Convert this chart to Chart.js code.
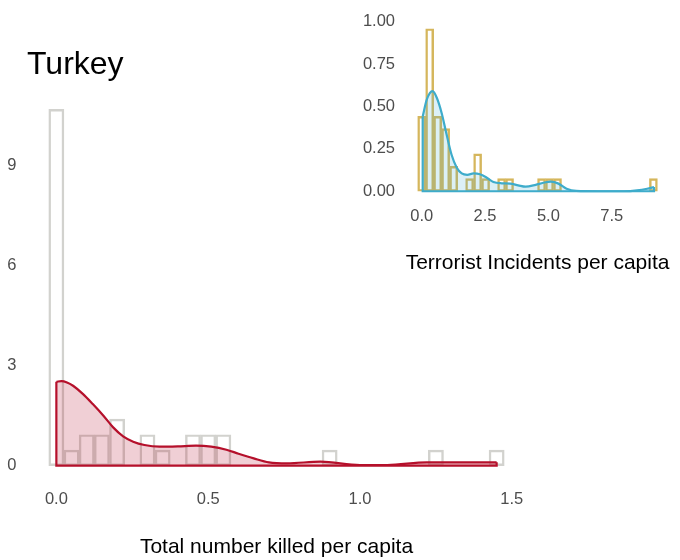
<!DOCTYPE html>
<html>
<head>
<meta charset="utf-8">
<script src="https://cdn.jsdelivr.net/npm/chart.js@4.4.1/dist/chart.umd.min.js"></script>
<style>
  html, body { margin: 0; padding: 0; background: #fff; }
  #wrap { position: relative; width: 680px; height: 560px; }
  #mainBox { position: absolute; left: 0; top: 0; width: 680px; height: 560px; }
  #insetBox { position: absolute; left: 350px; top: 0; width: 330px; height: 280px; }
</style>
</head>
<body>
<div id="wrap">
  <div id="mainBox"><canvas id="mainChart"></canvas></div>
  <div id="insetBox"><canvas id="insetChart"></canvas></div>
</div>
<script>
// ── DATA: main panel (Total number killed per capita) ──
const countryName = 'Turkey';
const killedBins = [0.00, 0.05, 0.10, 0.15, 0.20, 0.25, 0.30, 0.35, 0.40, 0.45,
                    0.50, 0.55, 0.60, 0.65, 0.70, 0.75, 0.80, 0.85, 0.90, 0.95,
                    1.00, 1.05, 1.10, 1.15, 1.20, 1.25, 1.30, 1.35, 1.40, 1.45];
const killedHist = [10.70, 0.47, 0.93, 0.93, 1.40, 0, 0.93, 0.47, 0, 0.93,
                    0.93, 0.93, 0, 0, 0, 0, 0, 0, 0.47, 0,
                    0, 0, 0, 0, 0, 0.47, 0, 0, 0, 0.47];
const killedDensX = [0, 0.017, 0.035, 0.055, 0.088, 0.12, 0.155, 0.187, 0.22, 0.253, 0.29, 0.34, 0.40,
                     0.46, 0.51, 0.56, 0.60, 0.65, 0.70, 0.76, 0.87, 1.00, 1.09, 1.22, 1.32, 1.45];
const killedDensY = [2.52, 2.54, 2.50, 2.40, 2.15, 1.85, 1.50, 1.15, 0.88, 0.72, 0.62, 0.57, 0.58,
                     0.60, 0.57, 0.48, 0.36, 0.22, 0.10, 0.07, 0.12, 0.02, 0.02, 0.10, 0.10, 0.10];
const killedXTicks = [0, 0.5, 1.0, 1.5];
const killedYTicks = [0, 3, 6, 9];

// ── DATA: inset (Terrorist Incidents per capita) ──
const incidentBins = [0.000, 0.315, 0.631, 0.946, 1.262, 1.577, 1.892, 2.208, 2.523, 2.839,
                      3.154, 3.469, 3.785, 4.100, 4.416, 4.731, 5.046, 5.362, 5.677, 5.993,
                      6.308, 6.623, 6.939, 7.254, 7.570, 7.885, 8.200, 8.516, 8.831, 9.147];
const incidentHist = [0.442, 0.958, 0.442, 0.369, 0.147, 0, 0.074, 0.221, 0.074, 0,
                      0.074, 0.074, 0, 0, 0, 0.074, 0.074, 0.074, 0, 0,
                      0, 0, 0, 0, 0, 0, 0, 0, 0, 0.074];
const incidentDensX = [0.04, 0.20, 0.43, 0.60, 0.79, 0.99, 1.18, 1.38, 1.58, 1.80, 2.05, 2.30, 2.57,
                       2.83, 3.16, 3.49, 3.81, 4.10, 4.50, 4.80, 5.10, 5.40, 5.72, 6.10, 7.00,
                       8.00, 8.50, 8.90, 9.17];
const incidentDensY = [0.44, 0.54, 0.59, 0.55, 0.46, 0.33, 0.215, 0.14, 0.105, 0.097, 0.105, 0.10, 0.08,
                       0.055, 0.047, 0.045, 0.035, 0.027, 0.038, 0.05, 0.057, 0.045, 0.015, 0.002, 0,
                       0, 0.005, 0.015, 0.025];
const incidentXTicks = [0, 2.5, 5.0, 7.5];
const incidentYTicks = [0, 0.25, 0.5, 0.75, 1.0];

const FONT = "'Liberation Sans', Arial, sans-serif";
const TICK_COLOR = '#4d4d4d';

function pts(xs, ys) {
  return xs.map((x, i) => ({ x: x, y: ys[i] }));
}

// closing outline of a density polygon: left edge, baseline, right edge
function edgePts(xs, ys) {
  const n = xs.length - 1;
  return [
    { x: xs[0], y: ys[0] }, { x: xs[0], y: 0 },
    { x: xs[n], y: 0 }, { x: xs[n], y: ys[n] }
  ];
}

function fixedTicks(values) {
  return function (scale) {
    scale.ticks = values.map(v => ({ value: v }));
  };
}

function buildDensityChart(canvas, cfg) {
  return new Chart(canvas, {
    type: 'bar',
    data: {
      datasets: [
        {
          type: 'bar',
          data: pts(cfg.bins, cfg.hist),
          backgroundColor: 'rgba(0,0,0,0)',
          borderColor: cfg.barColor,
          borderWidth: 1.8,
          borderSkipped: false,
          categoryPercentage: 1,
          barPercentage: 1,
          order: 3
        },
        {
          type: 'line',
          data: pts(cfg.densX, cfg.densY),
          borderColor: cfg.lineColor,
          backgroundColor: cfg.fillColor,
          borderWidth: 2.2,
          fill: 'origin',
          pointRadius: 0,
          cubicInterpolationMode: 'monotone',
          order: 2
        },
        {
          type: 'line',
          data: edgePts(cfg.densX, cfg.densY),
          borderColor: cfg.lineColor,
          borderWidth: 2.2,
          fill: false,
          pointRadius: 0,
          tension: 0,
          order: 1
        }
      ]
    },
    options: {
      responsive: true,
      maintainAspectRatio: false,
      animation: false,
      layout: { padding: cfg.padding },
      plugins: { legend: { display: false }, tooltip: { enabled: false }, title: { display: false } },
      scales: {
        x: {
          type: 'linear',
          min: cfg.xMin, max: cfg.xMax,
          offset: false,
          grid: { display: false, drawTicks: false },
          border: { display: false },
          afterBuildTicks: fixedTicks(cfg.xTicks),
          afterFit: s => { s.height = cfg.xAxisHeight; },
          ticks: {
            color: TICK_COLOR, font: { family: FONT, size: 16.5 }, padding: cfg.xTickPad,
            maxRotation: 0, autoSkip: false,
            callback: v => Number(v).toFixed(cfg.xDigits)
          },
          title: {
            display: true, text: cfg.xTitle, color: '#000',
            font: { family: FONT, size: 21, lineHeight: 1.2 },
            padding: { top: 0, bottom: cfg.titlePadBottom }
          }
        },
        y: {
          type: 'linear',
          min: cfg.yMin, max: cfg.yMax,
          grid: { display: false, drawTicks: false },
          border: { display: false },
          afterBuildTicks: fixedTicks(cfg.yTicks),
          afterFit: s => { s.width = cfg.yAxisWidth; },
          ticks: {
            color: TICK_COLOR, font: { family: FONT, size: 16.5 }, padding: cfg.yTickPad,
            autoSkip: false,
            callback: v => Number(v).toFixed(cfg.yDigits)
          }
        }
      }
    },
    plugins: cfg.extraPlugins || []
  });
}

// ── MAIN PANEL ──
const countryTitle = {
  id: 'countryTitle',
  afterDraw(chart) {
    const ctx = chart.ctx;
    ctx.save();
    ctx.font = '32px ' + FONT;
    ctx.fillStyle = '#000';
    ctx.textAlign = 'left';
    ctx.textBaseline = 'alphabetic';
    ctx.fillText(countryName, 27, 74);
    ctx.restore();
  }
};

buildDensityChart(document.getElementById('mainChart'), {
  bins: killedBins, hist: killedHist, densX: killedDensX, densY: killedDensY,
  barColor: '#d2d2ce', lineColor: '#b5102b', fillColor: 'rgba(181,16,43,0.2)',
  xMin: -0.1, xMax: 1.55, yMin: -0.535, yMax: 11.22,
  xTicks: killedXTicks, yTicks: killedYTicks, xDigits: 1, yDigits: 0,
  padding: { top: 92, right: 153, bottom: 0, left: 0 },
  xAxisHeight: 76.5, yAxisWidth: 26, xTickPad: 5.6, yTickPad: 9.5,
  xTitle: 'Total number killed per capita', titlePadBottom: 0,
  extraPlugins: [countryTitle]
});

// ── INSET ──
buildDensityChart(document.getElementById('insetChart'), {
  bins: incidentBins, hist: incidentHist, densX: incidentDensX, densY: incidentDensY,
  barColor: '#d5b65c', lineColor: '#3eaccb', fillColor: 'rgba(62,172,203,0.18)',
  xMin: -0.631, xMax: 9.778, yMin: -0.048, yMax: 1.006,
  xTicks: incidentXTicks, yTicks: incidentYTicks, xDigits: 1, yDigits: 2,
  padding: { top: 15, right: 10.6, bottom: 0, left: 0 },
  xAxisHeight: 80.6, yAxisWidth: 55.7, xTickPad: 7.4, yTickPad: 10.7,
  xTitle: 'Terrorist Incidents per capita', titlePadBottom: 4.1
});
</script>
</body>
</html>
